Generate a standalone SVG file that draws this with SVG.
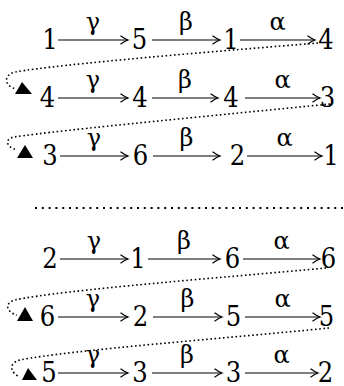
<svg xmlns="http://www.w3.org/2000/svg" width="344" height="386" viewBox="0 0 344 386">
<style>
text{font-family:"DejaVu Serif Condensed","DejaVu Serif",serif;fill:#000;text-anchor:middle}
.n{font-size:27px}
.l{font-size:24px;font-family:"DejaVu Serif",serif}
.a{stroke:#000;stroke-width:1.2;fill:none;marker-end:url(#ah)}
.d{stroke:#000;stroke-width:1.6;fill:none;stroke-dasharray:1.6 2.6}
.sep{stroke:#000;stroke-width:2;fill:none;stroke-dasharray:2 4.8}
.t{fill:#000}
</style>
<defs>
<marker id="ah" markerWidth="12" markerHeight="12" refX="10" refY="6" orient="auto" markerUnits="userSpaceOnUse" viewBox="0 0 12 12">
<path d="M2.5,1.8 Q7,5 10,6 Q7,7 2.5,10.2" fill="none" stroke="#000" stroke-width="1.2"/>
</marker>
</defs>
<g id="nodes">
<g id="r1n1"><text class="n" x="50" y="49">1</text></g>
<g id="r1n2"><text class="n" x="139.5" y="49">5</text></g>
<g id="r1n3"><text class="n" x="231" y="49">1</text></g>
<g id="r1n4"><text class="n" x="326" y="49">4</text></g>
<g id="r2n1"><text class="n" x="47.5" y="107">4</text></g>
<g id="r2n2"><text class="n" x="140" y="107">4</text></g>
<g id="r2n3"><text class="n" x="231" y="107">4</text></g>
<g id="r2n4"><text class="n" x="327.5" y="107">3</text></g>
<g id="r3n1"><text class="n" x="50" y="165">3</text></g>
<g id="r3n2"><text class="n" x="140.5" y="165">6</text></g>
<g id="r3n3"><text class="n" x="237.5" y="165">2</text></g>
<g id="r3n4"><text class="n" x="331" y="165">1</text></g>
<g id="r4n1"><text class="n" x="50" y="268">2</text></g>
<g id="r4n2"><text class="n" x="138" y="268">1</text></g>
<g id="r4n3"><text class="n" x="232.5" y="268">6</text></g>
<g id="r4n4"><text class="n" x="328.5" y="268">6</text></g>
<g id="r5n1"><text class="n" x="47.5" y="326">6</text></g>
<g id="r5n2"><text class="n" x="140.5" y="326">2</text></g>
<g id="r5n3"><text class="n" x="233.5" y="326">5</text></g>
<g id="r5n4"><text class="n" x="326.5" y="326">5</text></g>
<g id="r6n1"><text class="n" x="49" y="382">5</text></g>
<g id="r6n2"><text class="n" x="140" y="382">3</text></g>
<g id="r6n3"><text class="n" x="233.5" y="382">3</text></g>
<g id="r6n4"><text class="n" x="325.5" y="382">2</text></g>
</g>
<g id="connectors">
<path class="a" d="M58,40H128"/><path class="a" d="M152,40H220"/><path class="a" d="M240,40H315"/>
<path class="a" d="M58,98H128"/><path class="a" d="M152,98H218"/><path class="a" d="M245,98H320"/>
<path class="a" d="M60,156H128"/><path class="a" d="M153,156H220"/><path class="a" d="M247,156H322"/>
<path class="a" d="M60,259H128"/><path class="a" d="M148,259H220"/><path class="a" d="M243,259H320"/>
<path class="a" d="M58,317H128"/><path class="a" d="M153,317H222"/><path class="a" d="M245,317H320"/>
<path class="a" d="M58,373H128"/><path class="a" d="M152,373H222"/><path class="a" d="M245,373H318"/>
<path class="d" d="M318,43 C220,51 60,64 15,72 C3,75 4,86 16,89"/>
<path class="d" d="M330,104 C230,114 60,130 14,137 C4,139 6,147 17,150"/>
<path class="d" d="M326,268 C230,277 60,290 15,300 C4,303 6,312 17,315"/>
<path class="d" d="M329,328 C230,338 70,350 20,360 C8,363 10,373 20,377"/>
<polygon class="t" points="22,82 15,94 32,94"/>
<polygon class="t" points="25,145 17,158 33,158"/>
<polygon class="t" points="25,307 17,321 33,321"/>
<polygon class="t" points="28,368 22,380 37,380"/>
<path class="sep" d="M35,208H344"/>
</g>
<g id="labels">
<text class="l" x="93" y="30">γ</text><text class="l" x="186" y="30">β</text><text class="l" x="277.5" y="30">α</text>
<text class="l" x="93" y="88">γ</text><text class="l" x="185" y="88">β</text><text class="l" x="282.5" y="88">α</text>
<text class="l" x="94" y="146">γ</text><text class="l" x="186.5" y="146">β</text><text class="l" x="284.5" y="146">α</text>
<text class="l" x="94" y="249">γ</text><text class="l" x="184" y="249">β</text><text class="l" x="281.5" y="249">α</text>
<text class="l" x="93" y="307">γ</text><text class="l" x="187.5" y="307">β</text><text class="l" x="282.5" y="307">α</text>
<text class="l" x="93" y="363">γ</text><text class="l" x="187" y="363">β</text><text class="l" x="281.5" y="363">α</text>
</g>
</svg>
